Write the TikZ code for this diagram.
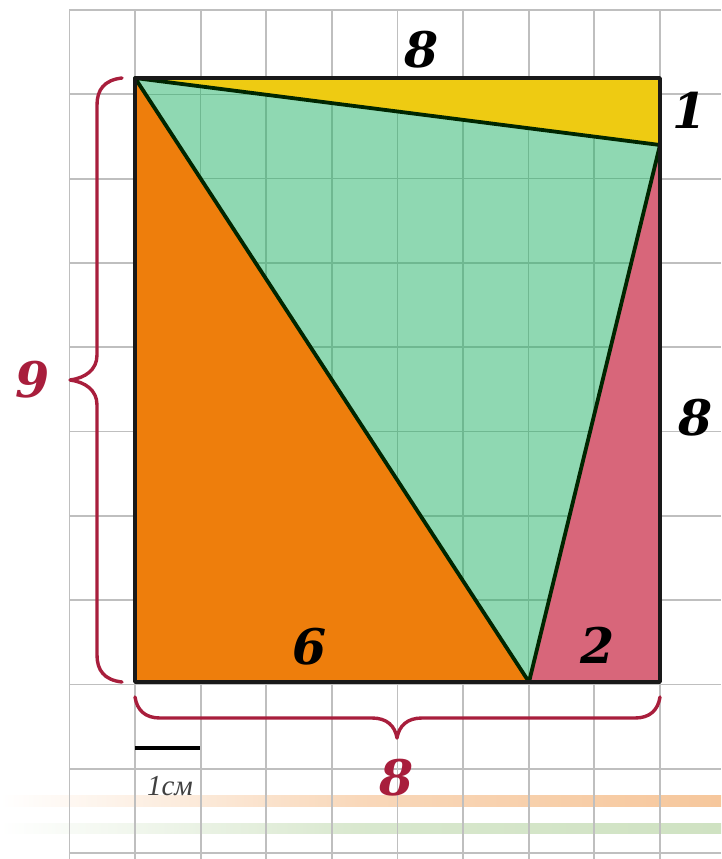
\documentclass[tikz,border=0pt]{standalone}
\usepackage{fontspec}
\newfontfamily\cyrfont{Liberation Serif}
\newfontfamily\digfont{DejaVu Serif}
\begin{document}
\begin{tikzpicture}[x=1pt,y=-1pt,
  gridline/.style={draw=black!25,line width=1.8pt},
  greengrid/.style={draw=gridGreen,line width=1.6pt},
  edge/.style={draw=black!85!green,line width=3.8pt,line join=round},
  bracecurve/.style={draw=braceRed,line width=3.4pt,line cap=round,line join=round},
  numlbl/.style={inner sep=0pt,font=\fontsize{49}{56}\selectfont\digfont\bfseries\itshape},
  redlbl/.style={numlbl,text=braceRed}]
\definecolor{braceRed}{HTML}{A81E3C}
\definecolor{fillYellow}{HTML}{EECB12}
\definecolor{fillGreen}{HTML}{8FD8B2}
\definecolor{gridGreen}{HTML}{6FB891}
\definecolor{fillOrange}{HTML}{EE7E0C}
\definecolor{fillRed}{HTML}{D8667A}
\definecolor{bandOrange}{HTML}{F6C79C}
\definecolor{bandGreen}{HTML}{CFE2C2}
\useasboundingbox (0,0) rectangle (721,859);
\fill[white] (0,0) rectangle (721,859);
% faded bands
\shade[left color=white,right color=bandOrange,middle color=bandOrange!70] (0,795) rectangle (721,806);
\shade[left color=white,right color=bandGreen,middle color=bandGreen!80] (0,823) rectangle (721,833);
% grid
\foreach \k in {0,...,10} \draw[gridline] ({69.4+65.6*\k},10) -- ({69.4+65.6*\k},859);
\foreach \j in {0,...,10} \draw[gridline] (69.4,{10+84.3*\j}) -- (721,{10+84.3*\j});
% corners
\coordinate (TL) at (135,78);
\coordinate (TR) at (660,78);
\coordinate (BL) at (135,682);
\coordinate (BR) at (660,682);
\coordinate (P) at (660,145);
\coordinate (Q) at (529,682);
% fills
\fill[fillYellow] (TL) -- (TR) -- (P) -- cycle;
\fill[fillOrange] (TL) -- (BL) -- (Q) -- cycle;
\fill[fillRed] (Q) -- (BR) -- (P) -- cycle;
\fill[fillGreen] (TL) -- (P) -- (Q) -- cycle;
\begin{scope}
\clip (TL) -- (P) -- (Q) -- cycle;
\foreach \k in {0,...,10} \draw[greengrid] ({69.4+65.6*\k},10) -- ({69.4+65.6*\k},859);
\foreach \j in {0,...,10} \draw[greengrid] (69.4,{10+84.3*\j}) -- (721,{10+84.3*\j});
\end{scope}
% edges
\draw[edge] (TL) -- (P) -- (Q) -- cycle;
\draw[edge,draw=black!90] (TL) -- (TR) -- (BR) -- (BL) -- cycle;
% braces
\draw[bracecurve] (122,78) .. controls (104,80) and (97,90) .. (97,105)
  -- (97,355) .. controls (97,370) and (85,378) .. (70,380)
  .. controls (85,382) and (97,390) .. (97,405)
  -- (97,655) .. controls (97,670) and (104,680) .. (122,682);
\draw[bracecurve] (135,697) .. controls (137,710) and (145,718) .. (160,718)
  -- (372,718) .. controls (387,718) and (395,726) .. (397,738)
  .. controls (399,726) and (407,718) .. (422,718)
  -- (635,718) .. controls (650,718) and (658,710) .. (660,697);
% scale bar
\coordinate (S1) at (135,748);
\coordinate (S2) at (200,748);
\draw[line width=3.5pt,black] (S1) -- (S2);
\node[inner sep=0pt,text=black!75,font=\fontsize{29}{34}\selectfont\cyrfont\itshape] (cm) at (170,786) {1см};
% labels
\node[numlbl] (top8) at (422,50) {8};
\node[numlbl] (one) at (690,110) {1};
\node[numlbl] (right8) at (696,418) {8};
\node[numlbl] (six) at (310,647) {6};
\node[numlbl] (two) at (598,645) {2};
\node[redlbl] (nine) at (33,380) {9};
\node[redlbl] (bot8) at (397,778) {8};
\end{tikzpicture}
\end{document}
